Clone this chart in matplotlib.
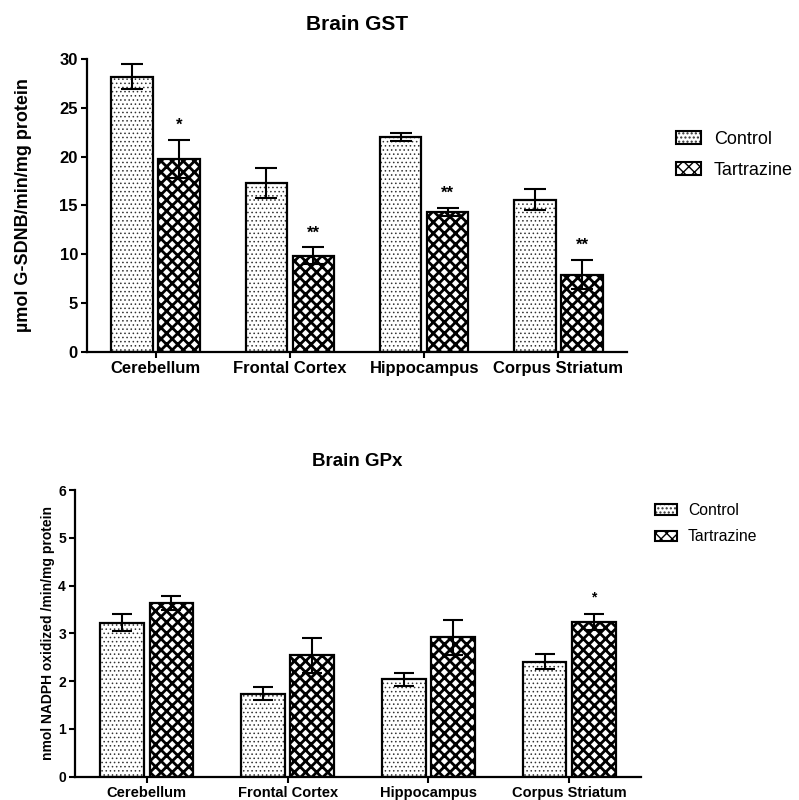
import matplotlib
matplotlib.use("Agg")
import matplotlib.pyplot as plt
import numpy as np
from matplotlib.patches import Patch

plt.rcParams["font.family"] = ["Liberation Sans", "DejaVu Sans"]

regions = ["Cerebellum", "Frontal Cortex", "Hippocampus", "Corpus Striatum"]
groups = ["Control", "Tartrazine"]

gst_control = [28.2, 17.3, 22.0, 15.6]
gst_control_err = [1.3, 1.5, 0.45, 1.05]
gst_tartrazine = [19.75, 9.85, 14.35, 7.9]
gst_tartrazine_err = [1.95, 0.85, 0.4, 1.5]
gst_stars = ["*", "**", "**", "**"]

gpx_control = [3.22, 1.74, 2.04, 2.41]
gpx_control_err = [0.18, 0.14, 0.14, 0.15]
gpx_tartrazine = [3.64, 2.54, 2.92, 3.23]
gpx_tartrazine_err = [0.15, 0.36, 0.37, 0.17]
gpx_stars = ["", "", "", "*"]

W = 0.31
OFF = 0.175
DOT_LW = 0.6
CROSS_LW = 2.0
DOTS = "...."
CROSS = "xxx"


def set_hatch_lw(patches, lw):
    for p in patches:
        if hasattr(p, "set_hatch_linewidth"):
            p.set_hatch_linewidth(lw)


def hatched_bars(ax, x, vals, hatch, color, lw):
    with plt.rc_context({"hatch.linewidth": lw}):
        bars = ax.bar(x, vals, W, color="white", edgecolor=color, hatch=hatch,
                      linewidth=0, zorder=2)
    set_hatch_lw(bars, lw)
    ax.bar(x, vals, W, fill=False, edgecolor="black", linewidth=1.6, zorder=3)


def draw_panel(ax, ctrl, ctrl_err, tart, tart_err, stars, ymax, yticks,
               tick_fs, cat_fs, star_fs, capsize, star_pad):
    x = np.arange(len(regions))
    hatched_bars(ax, x - OFF, ctrl, DOTS, "#333333", DOT_LW)
    hatched_bars(ax, x + OFF, tart, CROSS, "black", CROSS_LW)
    ax.errorbar(x - OFF, ctrl, yerr=ctrl_err, fmt="none", ecolor="black",
                elinewidth=1.5, capsize=capsize, capthick=1.5, zorder=4)
    ax.errorbar(x + OFF, tart, yerr=tart_err, fmt="none", ecolor="black",
                elinewidth=1.5, capsize=capsize, capthick=1.5, zorder=4)
    for xi, v, e, s in zip(x, tart, tart_err, stars):
        if s:
            ax.text(xi + OFF, v + e + star_pad, s, ha="center", va="center",
                    fontsize=star_fs, fontweight="bold")

    ax.set_xlim(-0.51, 3.51)
    ax.set_ylim(0, ymax)
    ax.set_yticks(yticks)
    ax.set_xticks(x)
    ax.set_xticklabels(regions, fontsize=cat_fs, fontweight="bold")
    for lab in ax.get_yticklabels():
        lab.set_fontsize(tick_fs)
        lab.set_fontweight("bold")
    for side in ["top", "right"]:
        ax.spines[side].set_visible(False)
    for side in ["left", "bottom"]:
        ax.spines[side].set_linewidth(1.6)
    ax.tick_params(axis="both", direction="out", length=4.5, width=1.5, pad=2)


fig = plt.figure(figsize=(7.99, 8.0), dpi=100)

# top panel: GST
ax1 = fig.add_axes([0.1089, 0.56, 0.6758, 0.3663])
draw_panel(ax1, gst_control, gst_control_err, gst_tartrazine, gst_tartrazine_err,
           gst_stars, 30, [0, 5, 10, 15, 20, 25, 30],
           tick_fs=12, cat_fs=12, star_fs=12, capsize=8, star_pad=1.5)
ax1.set_ylabel("µmol G-SDNB/min/mg protein", fontsize=13, fontweight="bold", labelpad=20)
fig.text(357 / 799, 1 - 24 / 800, "Brain GST", ha="center", va="center",
         fontsize=15, fontweight="bold")

# bottom panel: GPx
ax2 = fig.add_axes([0.0939, 0.0291, 0.7084, 0.3584])
draw_panel(ax2, gpx_control, gpx_control_err, gpx_tartrazine, gpx_tartrazine_err,
           gpx_stars, 6, [0, 1, 2, 3, 4, 5, 6],
           tick_fs=10, cat_fs=10.5, star_fs=10, capsize=7.5, star_pad=0.35)
ax2.set_ylabel("nmol NADPH oxidized /min/mg protein", fontsize=10, fontweight="bold",
               labelpad=2)
fig.text(357 / 799, 1 - 461 / 800, "Brain GPx", ha="center", va="center",
         fontsize=13.5, fontweight="bold")


def legend_handles():
    with plt.rc_context({"hatch.linewidth": DOT_LW}):
        c0 = Patch(facecolor="white", edgecolor="#333333", hatch=DOTS, linewidth=0)
    with plt.rc_context({"hatch.linewidth": CROSS_LW}):
        t0 = Patch(facecolor="white", edgecolor="black", hatch=CROSS, linewidth=0)
    set_hatch_lw([c0], DOT_LW)
    set_hatch_lw([t0], CROSS_LW)
    c = (c0, Patch(fill=False, edgecolor="black", linewidth=1.5))
    t = (t0, Patch(fill=False, edgecolor="black", linewidth=1.5))
    return [c, t]


fig.legend(legend_handles(), groups, loc="upper left",
           bbox_to_anchor=(676 / 799, 1 - 131 / 800), frameon=False,
           fontsize=13, handlelength=1.4, handleheight=0.75, handletextpad=0.7,
           labelspacing=0.75, borderpad=0, borderaxespad=0)
fig.legend(legend_handles(), groups, loc="upper left",
           bbox_to_anchor=(655 / 799, 1 - 503 / 800), frameon=False,
           fontsize=11.3, handlelength=1.4, handleheight=0.65, handletextpad=0.7,
           labelspacing=0.72, borderpad=0, borderaxespad=0)

fig.savefig("out.png", dpi=100)
